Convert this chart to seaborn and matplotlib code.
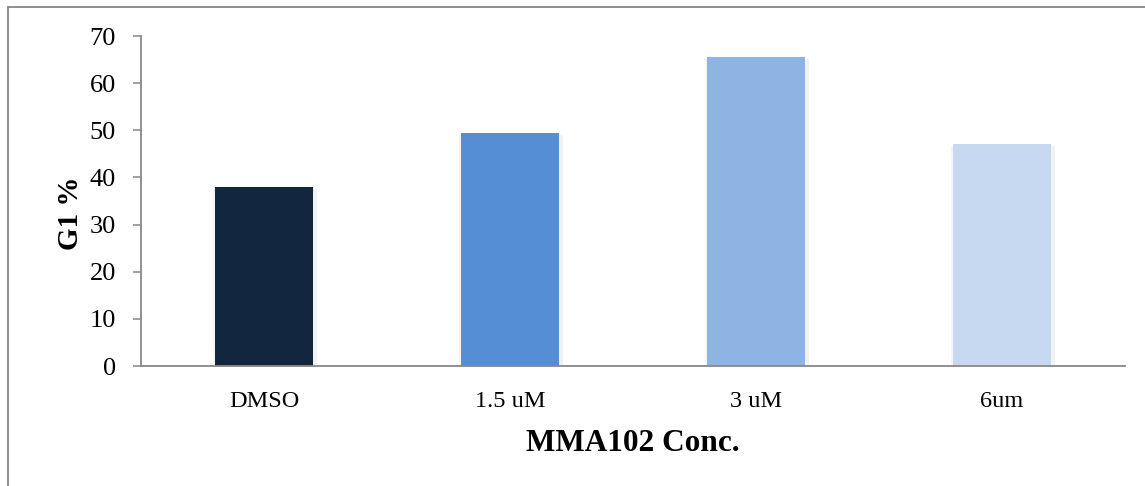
import matplotlib
matplotlib.use("Agg")
import matplotlib.pyplot as plt
import matplotlib.patheffects as pe
from matplotlib.lines import Line2D
import pandas as pd
import seaborn as sns

# G1 phase fraction by MMA102 concentration
categories = ["DMSO", "1.5 uM", "3 uM", "6um"]
g1_percent = [38.0, 49.5, 65.6, 47.1]
bar_colors = ["#12263F", "#558ED5", "#8EB4E3", "#C6D9F1"]
y_ticks = [0, 10, 20, 30, 40, 50, 60, 70]

sns.set_theme(style="white")
plt.rcParams["font.family"] = ["Liberation Serif", "DejaVu Serif"]

df = pd.DataFrame({"conc": categories, "g1": g1_percent})

fig = plt.figure(figsize=(11.45, 4.86), dpi=100)
ax = fig.add_axes([0.1231, 0.2469, 0.8594, 0.6790])

sns.barplot(data=df, x="conc", y="g1", hue="conc", order=categories,
            hue_order=categories, palette=bar_colors, width=0.4,
            saturation=1, legend=False, linewidth=0, ax=ax)

# soft drop shadow around each bar
for patch in ax.patches:
    patch.set_path_effects([
        pe.SimplePatchShadow(offset=(2.5, -1.5), shadow_rgbFace="#000000", alpha=0.05),
        pe.SimplePatchShadow(offset=(-1.5, -1.5), shadow_rgbFace="#000000", alpha=0.04),
        pe.Normal(),
    ])

ax.set_ylim(0, 70)
ax.set_yticks(y_ticks)
ax.set_xlim(-0.5, 3.5)

axis_gray = "#888888"
for side in ["top", "right"]:
    ax.spines[side].set_visible(False)
for side in ["left", "bottom"]:
    ax.spines[side].set_color(axis_gray)
    ax.spines[side].set_linewidth(1.3)
    ax.spines[side].set_zorder(3)

ax.tick_params(axis="y", which="major", direction="out", length=6, width=1.1,
               color=axis_gray, left=True, labelsize=19, pad=12, labelcolor="black")
ax.tick_params(axis="x", which="major", bottom=False, labelsize=17.5, pad=12,
               labelcolor="black")

ax.set_xlabel("MMA102 Conc.", fontsize=22.5, fontweight="bold", color="black")
ax.set_ylabel("G1 %", fontsize=21, fontweight="bold", color="black")
ax.xaxis.set_label_coords(0.5, -0.19)
ax.yaxis.set_label_coords(-0.058, 0.464)

# chart frame edges
fig.add_artist(Line2D([0.007, 1.0], [0.986, 0.986], transform=fig.transFigure,
                      color="#868686", linewidth=1.3))
fig.add_artist(Line2D([0.007, 0.007], [0.0, 0.986], transform=fig.transFigure,
                      color="#868686", linewidth=1.3))

fig.savefig("out.png", dpi=100)
